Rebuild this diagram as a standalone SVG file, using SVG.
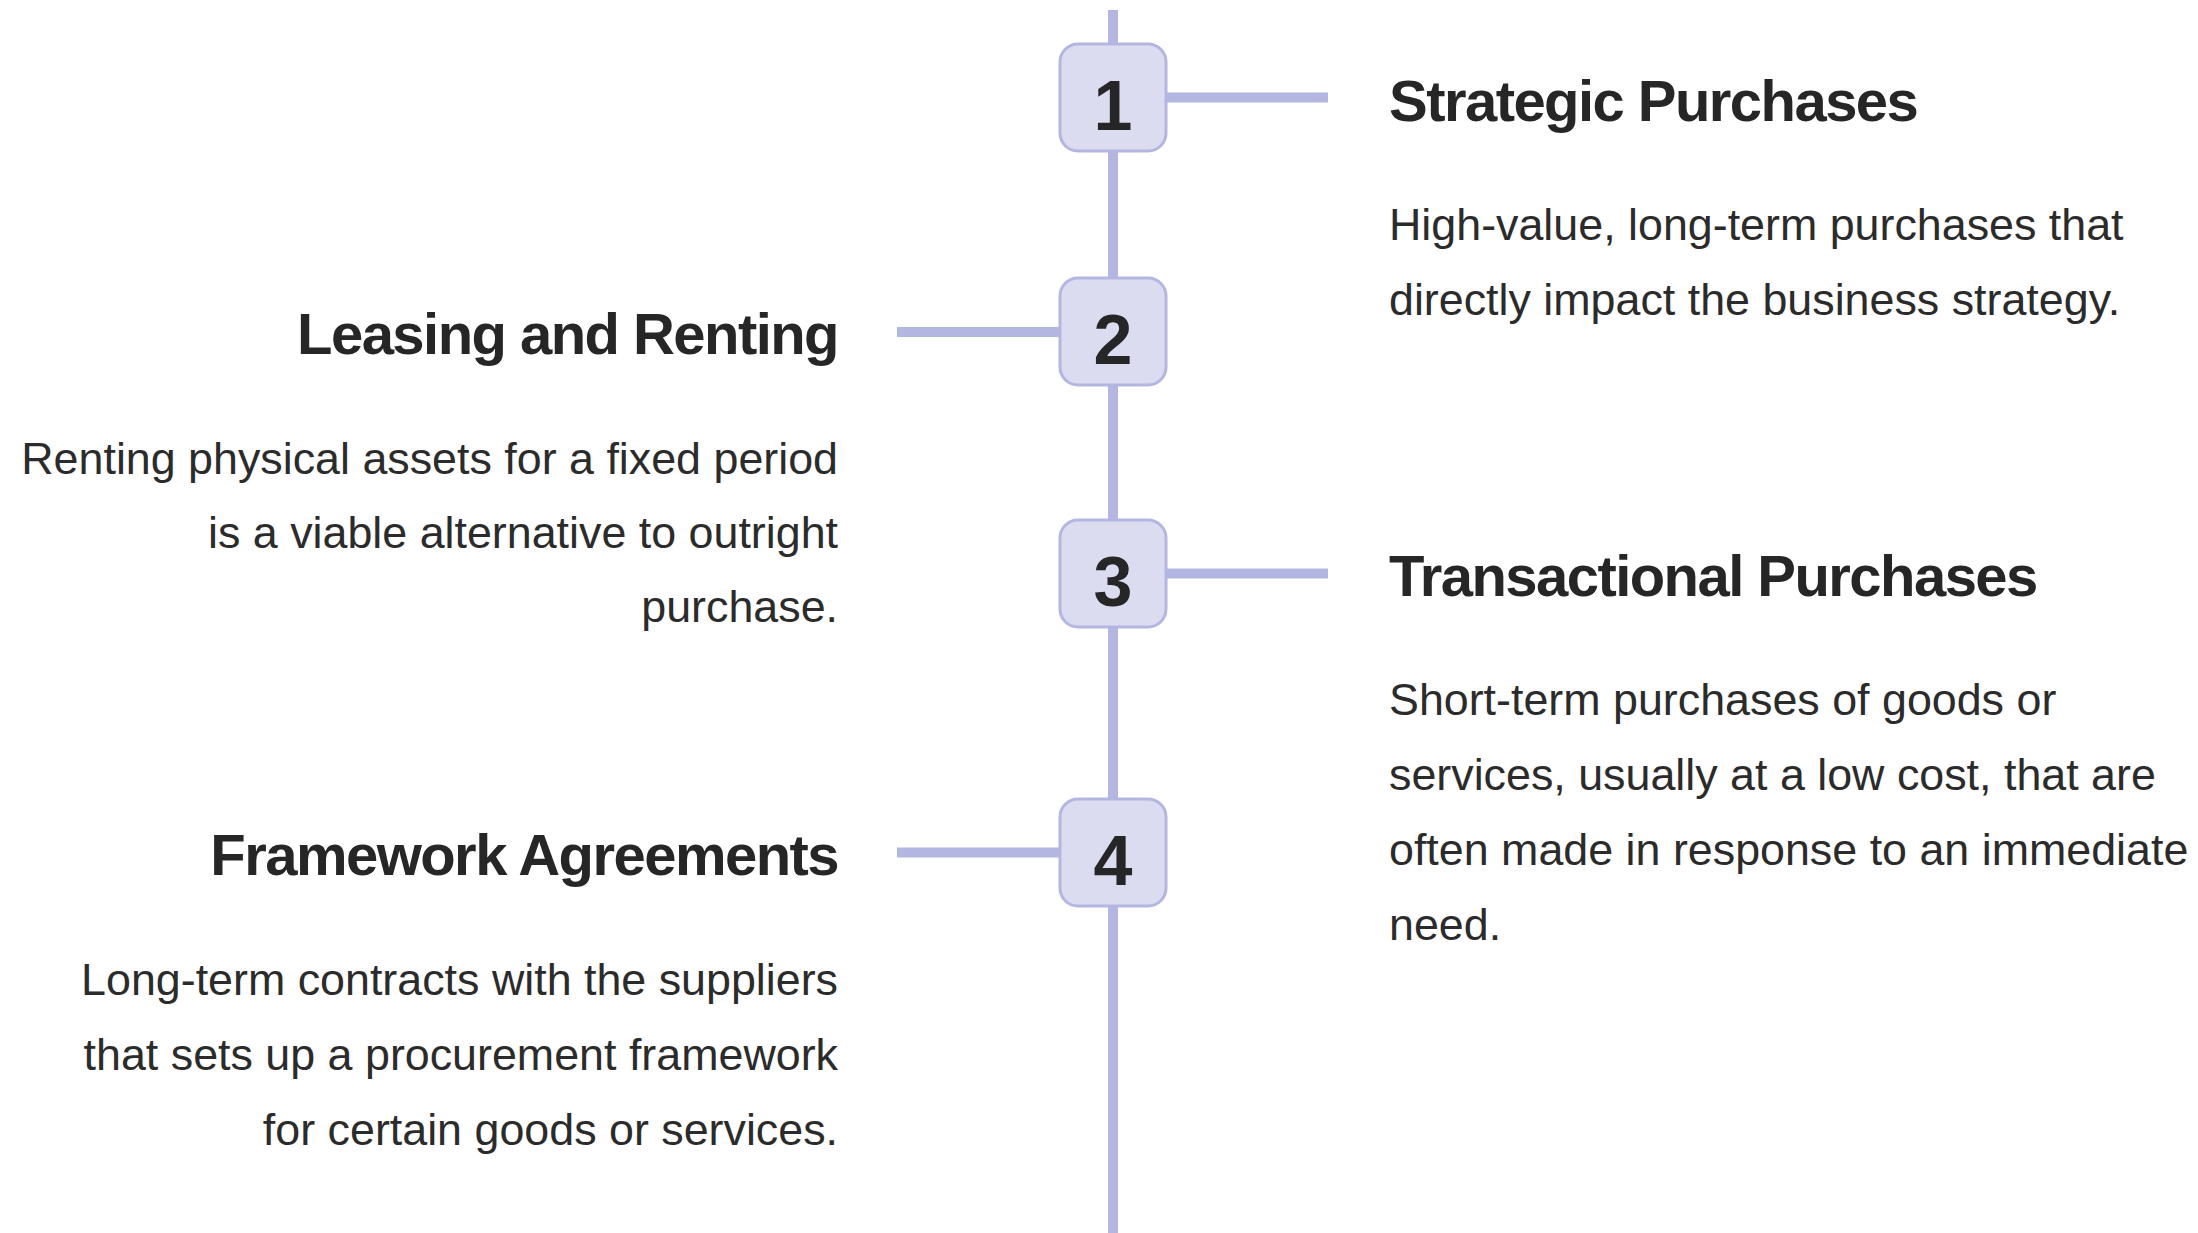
<svg xmlns="http://www.w3.org/2000/svg" width="2198" height="1233" viewBox="0 0 2198 1233">
<style>
.line{stroke:#b4b6e2;stroke-width:10;fill:none}
.box{fill:#dcdcf1;stroke:#b4b6e2;stroke-width:3}
.num{font-family:"Liberation Sans",Arial,sans-serif;font-weight:bold;font-size:70px;fill:#262626;text-anchor:middle}
.title{font-family:"Liberation Sans",Arial,sans-serif;font-weight:bold;font-size:58px;letter-spacing:-1.55px;fill:#262626}
.body{font-family:"Liberation Sans",Arial,sans-serif;font-size:44.8px;fill:#2b2b2b}
.end{text-anchor:end}
</style>
<rect width="2198" height="1233" fill="#ffffff"/>
<g id="connectors">
<line class="line" x1="1113" y1="10" x2="1113" y2="1233"/>
<line class="line" x1="1166" y1="97.5" x2="1328" y2="97.5"/>
<line class="line" x1="897" y1="332" x2="1060" y2="332"/>
<line class="line" x1="1166" y1="573.5" x2="1328" y2="573.5"/>
<line class="line" x1="897" y1="852.5" x2="1060" y2="852.5"/>
</g>
<g id="node1">
<rect class="box" x="1060" y="44" width="106" height="107" rx="18"/>
<text class="num" x="1113" y="130">1</text>
<text class="title" x="1389" y="121">Strategic Purchases</text>
<text class="body" x="1389" y="240">High-value, long-term purchases that</text>
<text class="body" x="1389" y="315">directly impact the business strategy.</text>
</g>
<g id="node2">
<rect class="box" x="1060" y="278" width="106" height="107" rx="18"/>
<text class="num" x="1113" y="364">2</text>
<text class="title end" x="838" y="354">Leasing and Renting</text>
<text class="body end" x="838" y="474">Renting physical assets for a fixed period</text>
<text class="body end" x="838" y="548">is a viable alternative to outright</text>
<text class="body end" x="838" y="622">purchase.</text>
</g>
<g id="node3">
<rect class="box" x="1060" y="520" width="106" height="107" rx="18"/>
<text class="num" x="1113" y="606">3</text>
<text class="title" x="1389" y="596">Transactional Purchases</text>
<text class="body" x="1389" y="715">Short-term purchases of goods or</text>
<text class="body" x="1389" y="790">services, usually at a low cost, that are</text>
<text class="body" x="1389" y="865">often made in response to an immediate</text>
<text class="body" x="1389" y="940">need.</text>
</g>
<g id="node4">
<rect class="box" x="1060" y="799" width="106" height="107" rx="18"/>
<text class="num" x="1113" y="885">4</text>
<text class="title end" x="838" y="875">Framework Agreements</text>
<text class="body end" x="838" y="995">Long-term contracts with the suppliers</text>
<text class="body end" x="838" y="1070">that sets up a procurement framework</text>
<text class="body end" x="838" y="1145">for certain goods or services.</text>
</g>
</svg>
